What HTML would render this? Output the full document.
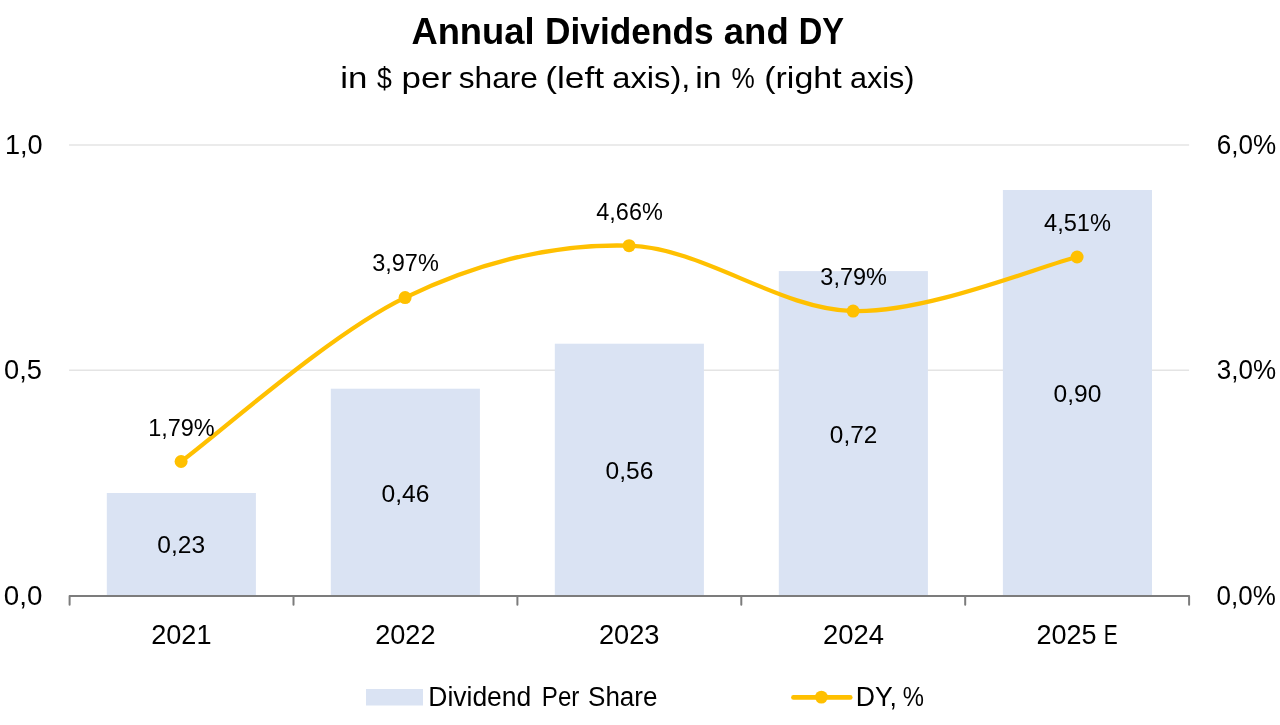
<!DOCTYPE html>
<html lang="en"><head><meta charset="utf-8"><title>Annual Dividends and DY</title>
<style>
html,body{margin:0;padding:0;background:#fff;overflow:hidden}
svg{display:block}
text{font-family:"Liberation Sans",sans-serif;fill:#000}
</style></head><body>
<svg width="1280" height="725" viewBox="0 0 1280 725">
<rect width="1280" height="725" fill="#fff"/>
<g stroke="#E4E4E4" stroke-width="1.6">
<line x1="69.1" y1="145" x2="1189.1" y2="145"/>
<line x1="69.1" y1="370.3" x2="1189.1" y2="370.3"/>
</g>
<g fill="#DAE3F3">
<rect x="106.8" y="493.0" width="149.1" height="103.0"/>
<rect x="330.8" y="388.7" width="149.1" height="207.3"/>
<rect x="554.8" y="343.7" width="149.1" height="252.3"/>
<rect x="778.8" y="271.1" width="149.1" height="324.9"/>
<rect x="1002.9" y="190.0" width="149.1" height="406.0"/>
</g>
<path d="M69.6 596.0H1189.1M69.6 596.0V604.8M293.5 596.0V604.8M517.4 596.0V604.8M741.3 596.0V604.8M965.2 596.0V604.8M1189.1 596.0V604.8" stroke="#7C7C7C" stroke-width="2" fill="none" stroke-linecap="round" stroke-linejoin="round"/>
<path d="M181.1 461.5 C218.4 434.1 330.4 333.5 405.1 297.6 C479.8 261.6 554.4 243.5 629.1 245.7 C703.8 248.0 778.4 309.2 853.1 311.1 C927.8 313.0 1039.8 266.0 1077.1 257.0" fill="none" stroke="#FFC000" stroke-width="4.3" stroke-linecap="round" stroke-linejoin="round"/>
<g fill="#FFC000"><circle cx="181.1" cy="461.5" r="6.5"/><circle cx="405.1" cy="297.6" r="6.5"/><circle cx="629.1" cy="245.7" r="6.5"/><circle cx="853.1" cy="311.1" r="6.5"/><circle cx="1077.1" cy="257.0" r="6.5"/></g>
<text y="43.75" font-size="37.60" font-weight="bold"><tspan x="411.39" textLength="123.21" lengthAdjust="spacingAndGlyphs">Annual</tspan> <tspan x="545.05" textLength="168.59" lengthAdjust="spacingAndGlyphs">Dividends</tspan> <tspan x="723.82" textLength="64.91" lengthAdjust="spacingAndGlyphs">and</tspan> <tspan x="798.80" textLength="45.34" lengthAdjust="spacingAndGlyphs">DY</tspan></text>
<text y="88.00" font-size="30.20"><tspan x="340.23" textLength="27.15" lengthAdjust="spacingAndGlyphs">in</tspan> <tspan x="376.95" textLength="14.83" lengthAdjust="spacingAndGlyphs">$</tspan> <tspan x="401.52" textLength="50.46" lengthAdjust="spacingAndGlyphs">per</tspan> <tspan x="458.69" textLength="79.31" lengthAdjust="spacingAndGlyphs">share</tspan> <tspan x="545.20" textLength="58.95" lengthAdjust="spacingAndGlyphs">(left</tspan> <tspan x="612.30" textLength="78.04" lengthAdjust="spacingAndGlyphs">axis),</tspan> <tspan x="695.31" textLength="26.30" lengthAdjust="spacingAndGlyphs">in</tspan> <tspan x="731.46" textLength="23.26" lengthAdjust="spacingAndGlyphs">%</tspan> <tspan x="764.26" textLength="77.35" lengthAdjust="spacingAndGlyphs">(right</tspan> <tspan x="849.99" textLength="64.52" lengthAdjust="spacingAndGlyphs">axis)</tspan></text>
<text x="4.95" y="153.70" font-size="27.10" textLength="37.72" lengthAdjust="spacingAndGlyphs">1,0</text>
<text x="3.97" y="379.30" font-size="27.10" textLength="37.91" lengthAdjust="spacingAndGlyphs">0,5</text>
<text x="3.86" y="604.90" font-size="27.10" textLength="38.57" lengthAdjust="spacingAndGlyphs">0,0</text>
<text x="1216.72" y="153.60" font-size="27.10" textLength="59.40" lengthAdjust="spacingAndGlyphs">6,0%</text>
<text x="1216.80" y="379.20" font-size="27.10" textLength="59.21" lengthAdjust="spacingAndGlyphs">3,0%</text>
<text x="1216.62" y="604.80" font-size="27.10" textLength="59.15" lengthAdjust="spacingAndGlyphs">0,0%</text>
<text x="151.21" y="643.75" font-size="27.10" textLength="60.27" lengthAdjust="spacingAndGlyphs">2021</text>
<text x="375.15" y="643.75" font-size="27.10" textLength="60.33" lengthAdjust="spacingAndGlyphs">2022</text>
<text x="598.96" y="643.75" font-size="27.10" textLength="60.55" lengthAdjust="spacingAndGlyphs">2023</text>
<text x="823.11" y="643.75" font-size="27.10" textLength="60.95" lengthAdjust="spacingAndGlyphs">2024</text>
<text y="643.75" font-size="27.10"><tspan x="1036.47" textLength="60.09" lengthAdjust="spacingAndGlyphs">2025</tspan> <tspan x="1103.69" textLength="13.94" lengthAdjust="spacingAndGlyphs">E</tspan></text>
<text x="157.38" y="553.40" font-size="23.80" textLength="47.73" lengthAdjust="spacingAndGlyphs">0,23</text>
<text x="381.54" y="501.60" font-size="23.80" textLength="47.92" lengthAdjust="spacingAndGlyphs">0,46</text>
<text x="605.59" y="479.00" font-size="23.80" textLength="47.76" lengthAdjust="spacingAndGlyphs">0,56</text>
<text x="829.89" y="442.90" font-size="23.80" textLength="47.37" lengthAdjust="spacingAndGlyphs">0,72</text>
<text x="1053.58" y="402.40" font-size="23.80" textLength="47.74" lengthAdjust="spacingAndGlyphs">0,90</text>
<text x="148.24" y="435.60" font-size="23.80" textLength="66.48" lengthAdjust="spacingAndGlyphs">1,79%</text>
<text x="372.21" y="271.20" font-size="23.80" textLength="66.61" lengthAdjust="spacingAndGlyphs">3,97%</text>
<text x="596.30" y="219.60" font-size="23.80" textLength="66.48" lengthAdjust="spacingAndGlyphs">4,66%</text>
<text x="820.36" y="285.00" font-size="23.80" textLength="66.57" lengthAdjust="spacingAndGlyphs">3,79%</text>
<text x="1044.06" y="230.90" font-size="23.80" textLength="66.93" lengthAdjust="spacingAndGlyphs">4,51%</text>
<text y="706.10" font-size="26.80"><tspan x="428.27" textLength="103.02" lengthAdjust="spacingAndGlyphs">Dividend</tspan> <tspan x="541.86" textLength="37.48" lengthAdjust="spacingAndGlyphs">Per</tspan> <tspan x="588.04" textLength="69.44" lengthAdjust="spacingAndGlyphs">Share</tspan></text>
<text y="706.00" font-size="26.80"><tspan x="855.84" textLength="40.95" lengthAdjust="spacingAndGlyphs">DY,</tspan> <tspan x="902.74" textLength="21.21" lengthAdjust="spacingAndGlyphs">%</tspan></text>
<rect x="366" y="689" width="57" height="16.5" fill="#DAE3F3"/>
<line x1="793.5" y1="697.4" x2="850.2" y2="697.4" stroke="#FFC000" stroke-width="4.8" stroke-linecap="round"/>
<circle cx="821.4" cy="697.1" r="6.4" fill="#FFC000"/>
</svg>
</body></html>
